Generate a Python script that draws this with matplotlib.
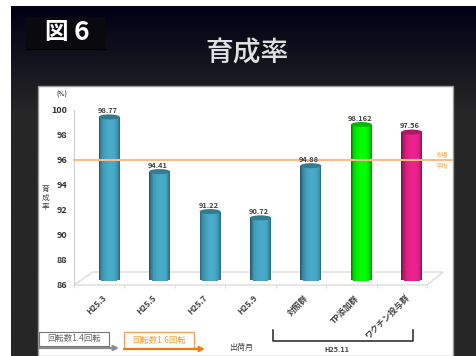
import numpy as np
import matplotlib
matplotlib.use("Agg")
import matplotlib.pyplot as plt
from matplotlib.patches import Ellipse, Polygon, Rectangle
from matplotlib.transforms import ScaledTranslation

plt.rcParams['font.family'] = ['Noto Sans CJK JP', 'DejaVu Sans']

categories = ['H25.3', 'H25.5', 'H25.7', 'H25.9', '対照群', 'TP添加群', 'ワクチン投与群']
rates = [98.77, 94.41, 91.22, 90.72, 94.88, 98.162, 97.56]
rate_labels = ['98.77', '94.41', '91.22', '90.72', '94.88', '98.162', '97.56']
average_rate = 96
yticks = [86, 88, 90, 92, 94, 96, 98, 100]
bar_colors = [(0.28, 0.67, 0.79), (0.28, 0.67, 0.79), (0.28, 0.67, 0.79), (0.28, 0.67, 0.79),
              (0.28, 0.67, 0.79), (0.0, 1.0, 0.0), (0.93, 0.13, 0.55)]

W, H = 476, 356
fig = plt.figure(figsize=(W / 100, H / 100), dpi=100)

def px_axes(x0, y0, x1, y1, **kw):
    return fig.add_axes([x0 / W, 1 - y1 / H, (x1 - x0) / W, (y1 - y0) / H], **kw)

# page and slide background
bg = px_axes(0, 0, W, H)
bg.axis('off')
grad = np.clip(np.linspace(0, 1, 256) / 0.3, 0, 1)
top, bottom = np.array([0, 0, 20]), np.array([38, 38, 38])
img = (top[None, :] + (bottom - top)[None, :] * grad[:, None]) / 255
bg.imshow(img[:, None, :], extent=(11, W, H, 6), aspect='auto', zorder=0)
bg.set_xlim(0, W)
bg.set_ylim(H, 0)
bg.add_patch(Rectangle((26, 17), 79, 32, fc='#0a0a0e', ec='none', zorder=1))
bg.plot([26, 105], [49, 49], color='#000000', lw=1, zorder=1)
bg.text(44, 32, '図', color='white', fontsize=17, fontweight='bold', ha='left', va='center', zorder=2)
bg.text(81, 32, '6', color='white', fontsize=19, fontweight='bold', ha='center', va='center', zorder=2)
bg.text(247, 53, '育成率', color='#e0e0e0', fontsize=20, fontweight='medium', ha='center', va='center', zorder=2)
bg.add_patch(Rectangle((38, 86), 415, 270, fc='white', ec='#9a9a9a', lw=1, zorder=1))

# chart: the cylinders sit on a floor receding behind the front plane
ax = px_axes(74, 109.5, 427, 285)
ax.set_xlim(0, 7)
ax.set_ylim(86, 100)
ax.patch.set_alpha(0)
for s in ['top', 'right', 'bottom']:
    ax.spines[s].set_visible(False)
ax.spines['left'].set_color('#d0d0d0')
ax.set_xticks(np.arange(0, 8))
ax.set_xticklabels([])
ax.tick_params(axis='x', length=2, color='#dddddd')
ax.set_yticks(yticks)
ax.tick_params(axis='y', length=0, pad=5, labelsize=6.5, labelcolor='#333333')
for t in ax.get_yticklabels():
    t.set_fontweight('bold')

shift = ax.transData + ScaledTranslation(10 / 100, 8 / 100, fig.dpi_scale_trans)
ax_w, ax_h = 353.0, 175.5
ax.add_patch(Polygon([(0, 0), (19 / ax_w, 13 / ax_h), (369 / ax_w, 13 / ax_h), (1, 0)],
                     closed=True, fc='white', ec='#dcdcdc', lw=1, transform=ax.transAxes,
                     clip_on=False, zorder=1))

half = 0.208
n_slices = 24
unit_px = ax_h / 14
cap_dy = 2.5 / unit_px
foot = 0.15
edges = np.linspace(-half, half, n_slices + 1)
mids = (edges[:-1] + edges[1:]) / 2
pos = mids / half
shade = 1.0 - 0.42 * np.abs(pos) ** 4 - 0.12 * (pos < 0) * np.abs(pos)
for i, (value, color) in enumerate(zip(rates, bar_colors)):
    base = np.array(color)
    for m, s in zip(mids, shade):
        c = np.clip(base * s, 0, 1)
        drop = cap_dy * np.sqrt(max(0, 1 - (m / half) ** 2))
        ax.bar(i + 0.5 + m, value - 86 + foot + drop, width=edges[1] - edges[0] + 0.002,
               bottom=86 - foot - drop, color=c, transform=shift, zorder=3, lw=0, clip_on=False)
    ax.add_patch(Ellipse((i + 0.5, value), 2 * half, 2 * cap_dy, fc=base * 0.72, ec='none',
                         transform=shift, zorder=4, clip_on=False))
    ax.annotate(rate_labels[i], (i + 0.5, value), xycoords=shift, xytext=(-1.2, 2),
                textcoords='offset points', ha='center', va='bottom', fontsize=5.4,
                fontweight='bold', color='#444444', zorder=6, annotation_clip=False)
    ax.annotate(categories[i], (i + 0.5, 86), xytext=(2, -6), textcoords='offset points',
                ha='right', va='top', rotation=45, rotation_mode='anchor', fontsize=6,
                fontweight='bold', color='#444444', annotation_clip=False)

# herd-average reference line
ax.plot([0, 7.5], [average_rate, average_rate], color='#f9bd8c', lw=1.5, zorder=5, clip_on=False)
ax.text(7.3, average_rate + 0.45, '市場', fontsize=4.5, fontweight='bold', color='#f4c070',
        ha='center', va='center', clip_on=False)
ax.text(7.3, average_rate - 0.45, '平均', fontsize=4.5, fontweight='bold', color='#f4c070',
        ha='center', va='center', clip_on=False)

# axis captions and the notes under the chart
bg.text(62, 94, '(%)', fontsize=4.5, color='#444444', ha='center', va='center', fontweight='bold', zorder=3)
for k, ch in enumerate('育成率'):
    bg.text(45, 189 + k * 9, ch, fontsize=5.5, color='#444444', ha='center', va='center', zorder=3)

bg.add_patch(Rectangle((39, 332), 70, 14, fc='white', ec='#777777', lw=0.8, zorder=3))
bg.text(74, 339, '回転数1.4回転', fontsize=6, color='#666666', ha='center', va='center', zorder=4)
bg.annotate('', xy=(119, 348), xytext=(39, 348), zorder=3,
            arrowprops=dict(arrowstyle='-|>', color='#8a8a8a', lw=1.6, mutation_scale=7,
                            shrinkA=0, shrinkB=0))
bg.add_patch(Rectangle((124, 332), 70, 16, fc='white', ec='#f2a060', lw=0.9, zorder=3))
bg.text(159, 340, '回転数1.6回転', fontsize=6, color='#f0a030', ha='center', va='center', zorder=4)
bg.annotate('', xy=(205, 349), xytext=(124, 349), zorder=3,
            arrowprops=dict(arrowstyle='-|>', color='#f07a10', lw=1.6, mutation_scale=7,
                            shrinkA=0, shrinkB=0))
bg.text(241, 347, '出荷月', fontsize=5.8, color='#444444', ha='center', va='center', zorder=3)
bg.plot([273, 273, 413, 413], [330, 341, 341, 330], color='#222222', lw=1.1, zorder=3)
bg.text(337, 349, 'H25.11', fontsize=5.2, color='#444444', ha='center', va='center', fontweight='bold', zorder=3)

fig.savefig('out.png', dpi=100)
